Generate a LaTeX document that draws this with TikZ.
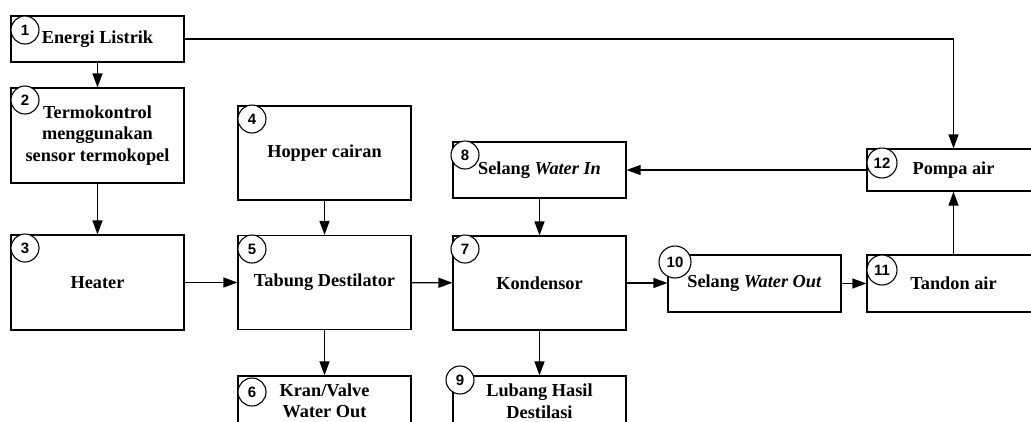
\documentclass[tikz,border=0pt]{standalone}
\usepackage{fontspec}
\setmainfont{Liberation Serif}
\newfontfamily\numfont{Liberation Sans}
\usetikzlibrary{arrows.meta,positioning}

\begin{document}
\begin{tikzpicture}[x=1pt,y=-1pt,
  box/.style={draw,line width=1.2pt,minimum width=173pt,inner sep=2pt,
    align=center,font=\fontsize{18.3}{21.5}\selectfont\bfseries},
  num/.style={circle,draw,fill=white,line width=1.1pt,minimum size=28pt,
    inner sep=1pt,font=\numfont\fontsize{15}{15}\selectfont\bfseries},
  arr/.style={-{Triangle[length=14pt,width=10pt]},line width=1.3pt}
]
\useasboundingbox (0,0) rectangle (1031,421);
\clip (0,0) rectangle (1031,421);
% blocks
\node[box,minimum height=46pt] (listrik) at (97.5,39) {Energi Listrik};
\node[box,minimum height=95pt] (termo) at (97.5,135.5) {Termokontrol\\menggunakan\\sensor termokopel};
\node[box,minimum height=95pt] (heater) at (97.5,282.5) {Heater};
\node[box,minimum height=94pt] (hopper) at (324.5,153) {Hopper cairan};
\node[box,minimum height=94pt] (tabung) at (324.5,282.5) {Tabung Destilator};
\node[box,minimum height=50pt] (kran) at (324.5,401) {Kran/Valve\\Water Out};
\node[box,minimum height=94pt] (kondensor) at (539.5,283) {Kondensor};
\node[box,minimum height=56pt] (selin) at (539.5,170) {Selang \textit{Water In}};
\node[box,minimum height=50pt] (lubang) at (539.5,401) {Lubang Hasil\\Destilasi};
\node[box,minimum height=57pt] (selout) at (754.5,283.5) {Selang \textit{Water Out}};
\node[box,minimum height=57pt] (tandon) at (953.5,283.5) {Tandon air};
\node[box,minimum height=42pt] (pompa) at (953.5,170) {Pompa air};
% numbers
\node[num] (c1) at (25,30) {1};
\node[num] (c2) at (25,100) {2};
\node[num] (c3) at (25,248) {3};
\node[num] (c4) at (252,119) {4};
\node[num] (c5) at (252,249) {5};
\node[num] (c6) at (252,392) {6};
\node[num] (c7) at (465,249) {7};
\node[num] (c8) at (465,155) {8};
\node[num] (c9) at (460,380) {9};
\node[num,minimum size=32pt] (c10) at (675,262) {10};
\node[num,minimum size=30pt] (c11) at (882,270) {11};
\node[num,minimum size=30pt] (c12) at (882,163) {12};
% flows
\draw[arr] (listrik) -- (termo);
\draw[arr] (termo) -- (heater);
\draw[arr] (heater) -- (tabung);
\draw[arr] (hopper) -- (tabung);
\draw[arr] (tabung) -- (kran);
\draw[arr] (tabung) -- (kondensor);
\draw[arr] (selin) -- (kondensor);
\draw[arr] (kondensor) -- (lubang);
\draw[arr] (kondensor.east) -- (selout.west |- kondensor.east);
\draw[arr] (selout) -- (tandon);
\draw[arr] (tandon) -- (pompa);
\draw[arr] (pompa) -- (selin);
\draw[arr] (listrik.east) -| (pompa.north);
\end{tikzpicture}
\end{document}
